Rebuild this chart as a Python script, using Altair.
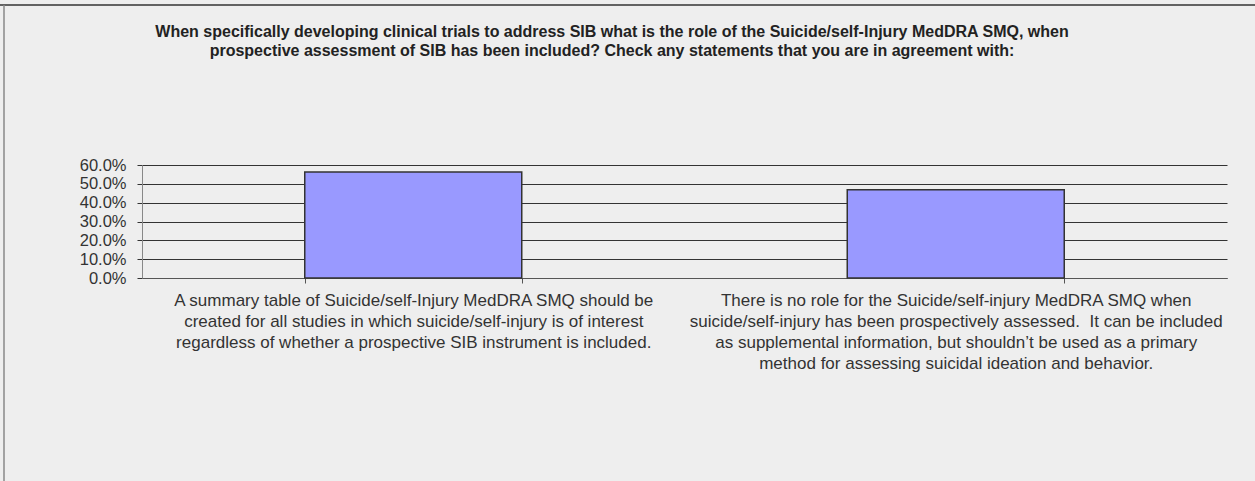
import altair as alt
import pandas as pd

title_lines = [
    "When specifically developing clinical trials to address SIB what is the role of the Suicide/self-Injury MedDRA SMQ, when",
    "prospective assessment of SIB has been included? Check any statements that you are in agreement with:",
]
categories = [
    "A summary table of Suicide/self-Injury MedDRA SMQ should be\ncreated for all studies in which suicide/self-injury is of interest\nregardless of whether a prospective SIB instrument is included.",
    "There is no role for the Suicide/self-injury MedDRA SMQ when\nsuicide/self-injury has been prospectively assessed.\u00a0 It can be included\nas supplemental information, but shouldn\u2019t be used as a primary\nmethod for assessing suicidal ideation and behavior.",
]
values = [0.5625, 0.46875]
y_ticks = [0.0, 0.1, 0.2, 0.3, 0.4, 0.5, 0.6]

df = pd.DataFrame({"cat": categories, "val": values})

FONT = "Liberation Sans"

bars = alt.Chart(df).mark_bar(
    color="#9999ff", stroke="#333333", strokeWidth=1.5
).encode(
    x=alt.X(
        "cat:N",
        sort=None,
        title=None,
        scale=alt.Scale(paddingInner=0.6, paddingOuter=0.3),
        axis=alt.Axis(
            labelAngle=0,
            labelExpr="split(datum.label, '\\n')",
            labelFont=FONT,
            labelFontSize=17,
            labelLineHeight=21,
            labelColor="#333333",
            labelLimit=0,
            labelPadding=9,
            tickBand="extent",
            tickSize=5,
            tickColor="#555555",
            domainColor="#555555",
            grid=False,
            labelBaseline="top",
        ),
    ),
    y=alt.Y(
        "val:Q",
        title=None,
        scale=alt.Scale(domain=[0, 0.6], nice=False),
        axis=alt.Axis(
            values=y_ticks,
            format=".1%",
            labelFont=FONT,
            labelFontSize=16.5,
            labelColor="#333333",
            labelPadding=11,
            tickSize=5,
            tickColor="#333333",
            gridColor="#333333",
            gridWidth=1,
            domainColor="#888888",
        ),
    ),
)

frame = pd.DataFrame({"a": [0]})
top_line = alt.Chart(frame).mark_rule(color="#333333", strokeWidth=1.5).encode(
    x=alt.value(-142), x2=alt.value(1113), y=alt.value(-160)
)
left_line = alt.Chart(frame).mark_rule(color="#888888", strokeWidth=1.5).encode(
    x=alt.value(-138), y=alt.value(-160), y2=alt.value(320)
)
title_text = alt.Chart(frame).mark_text(
    font=FONT,
    fontSize=16,
    fontWeight="bold",
    color="#222222",
    lineHeight=19,
    align="center",
    baseline="middle",
).encode(
    x=alt.value(470),
    y=alt.value(-133),
    text=alt.value(title_lines),
)

chart = alt.layer(top_line, left_line, title_text, bars).properties(
    width=1085,
    height=113,
    padding={"left": 142, "top": 165, "right": 28, "bottom": 203},
    autosize=alt.AutoSizeParams(type="none"),
    background="#eeeeee",
).configure_view(stroke=None)

chart.save("out.html", embed_options={"renderer": "svg", "actions": False})
